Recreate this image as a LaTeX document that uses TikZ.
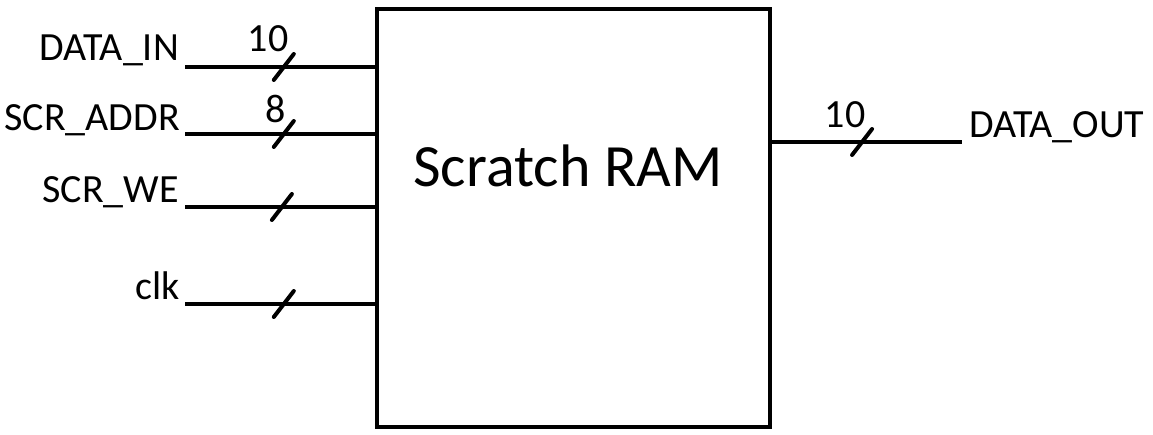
\documentclass[tikz,border=0pt]{standalone}
\usepackage{fontspec}
\setmainfont{Carlito}
\begin{document}
\begin{tikzpicture}[x=1pt,y=-1pt,
    wire/.style={line width=4pt},
    busmark/.style={line width=4pt,line cap=round},
    sig/.style={inner sep=0pt,font=\fontsize{40}{48}\selectfont},
    buswidth/.style={inner sep=0pt,anchor=base,font=\fontsize{40}{48}\selectfont}]
  \useasboundingbox (0,0) rectangle (1153,435);
  \node[draw,line width=4pt,minimum width=393pt,minimum height=418pt,inner sep=0pt] (ram) at (573.5,218) {};
  \node[anchor=base,inner sep=0pt,font=\fontsize{60}{72}\selectfont] (title) at (568,187) {Scratch RAM};
  % inputs
  \node[sig,anchor=base east] (din) at (179,61) {DATA\_IN};
  \node[sig,anchor=base east] (addr) at (180,131) {SCR\_ADDR};
  \node[sig,anchor=base east] (we) at (179,203) {SCR\_WE};
  \node[sig,anchor=base east] (clk) at (180,300) {clk};
  \coordinate (din-w) at (185,67);
  \coordinate (addr-w) at (185,134);
  \coordinate (we-w) at (185,207);
  \coordinate (clk-w) at (185,304);
  \draw[wire] (din-w) -- (din-w -| ram.west) coordinate[pos=.52] (din-s);
  \draw[wire] (addr-w) -- (addr-w -| ram.west) coordinate[pos=.52] (addr-s);
  \draw[wire] (we-w) -- (we-w -| ram.west) coordinate[pos=.51] (we-s);
  \draw[wire] (clk-w) -- (clk-w -| ram.west) coordinate[pos=.52] (clk-s);
  % output
  \coordinate (dout-e) at (962,142);
  \draw[wire] (dout-e -| ram.east) -- (dout-e) coordinate[pos=.474] (dout-s);
  \node[sig,anchor=base west] (dout) at (969,138) {DATA\_OUT};
  % bus marks
  \draw[busmark] ([shift={(-10,13)}]din-s) -- ([shift={(10,-13)}]din-s);
  \draw[busmark] ([shift={(-10,13)}]addr-s) -- ([shift={(10,-13)}]addr-s);
  \draw[busmark] ([shift={(-10,13)}]we-s) -- ([shift={(10,-13)}]we-s);
  \draw[busmark] ([shift={(-10,13)}]clk-s) -- ([shift={(10,-13)}]clk-s);
  \draw[busmark] ([shift={(-10,13)}]dout-s) -- ([shift={(10,-13)}]dout-s);
  \node[buswidth] (din-n) at (268,52) {10};
  \node[buswidth] (addr-n) at (276,123) {8};
  \node[buswidth] (dout-n) at (845,128) {10};
\end{tikzpicture}
\end{document}
